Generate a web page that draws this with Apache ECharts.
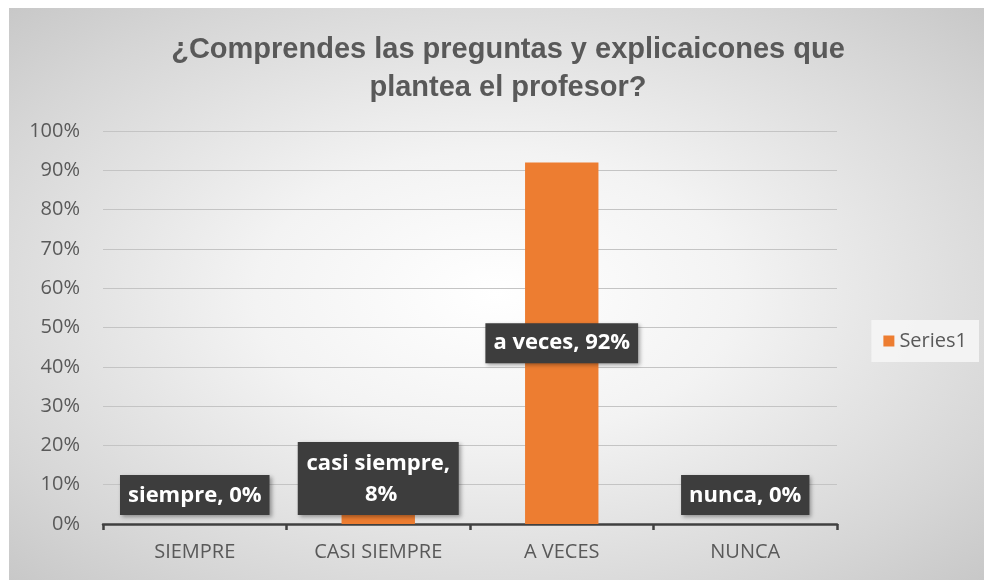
<!DOCTYPE html>
<html>
<head>
<meta charset="utf-8">
<script src="https://cdn.jsdelivr.net/npm/echarts@6/dist/echarts.min.js"></script>
<style>
  html, body { margin: 0; padding: 0; background: #fff; }
  #wrap {
    position: absolute; left: 9px; top: 8px; width: 975px; height: 572px;
    background: radial-gradient(ellipse at 50% 50%, #ffffff 0%, #f3f3f3 35%, #d6d6d6 80%, #c8c8c8 100%);
  }
  #chart { position: absolute; left: -9px; top: -8px; width: 984px; height: 580px; }
</style>
</head>
<body>
<div id="wrap"><div id="chart"></div></div>
<script>
  // datos de la encuesta
  const categories = ['SIEMPRE', 'CASI SIEMPRE', 'A VECES', 'NUNCA']
  const labelNames = ['siempre', 'casi siempre', 'a veces', 'nunca']
  const values = [0, 8, 92, 0]
  const yTicks = [0, 10, 20, 30, 40, 50, 60, 70, 80, 90, 100]

  const chart = echarts.init(document.getElementById('chart'))

  const labelBase = {
    show: true,
    color: '#ffffff',
    fontFamily: 'Open Sans',
    fontWeight: 'bold',
    fontSize: 22,
    lineHeight: 29,
    backgroundColor: '#3d3d3d',
    padding: [6, 8, 5, 8],
    shadowColor: 'rgba(0,0,0,0.35)',
    shadowBlur: 4,
    shadowOffsetX: 2,
    shadowOffsetY: 2
  }

  const seriesData = values.map(function (v, i) {
    const label = { position: 'insideBottom', distance: 9 }
    if (v > 20) {
      label.position = 'inside'
      label.distance = 0
    }
    if (labelNames[i].length > 10) {
      label.width = 145
      label.overflow = 'break'
      label.align = 'center'
      label.lineHeight = 31
    }
    return { value: v, name: labelNames[i], label: label }
  })

  chart.setOption({
    animation: false,
    backgroundColor: 'transparent',
    title: {
      text: '¿Comprendes las preguntas y explicaicones que\nplantea el profesor?',
      left: 503,
      top: 26,
      textAlign: 'center',
      textStyle: {
        fontFamily: 'Liberation Sans',
        fontWeight: 'bold',
        fontSize: 29,
        lineHeight: 38,
        color: '#595959'
      }
    },
    legend: {
      right: 5,
      top: 320,
      orient: 'vertical',
      backgroundColor: 'rgba(245,245,245,0.9)',
      padding: [11, 12, 11, 12],
      itemWidth: 11,
      itemHeight: 11,
      itemGap: 4,
      icon: 'rect',
      textStyle: { fontFamily: 'Open Sans', fontSize: 20, color: '#595959' },
      data: ['Series1']
    },
    grid: { left: 103, right: 147, top: 131, bottom: 56, containLabel: false },
    xAxis: {
      type: 'category',
      data: categories,
      axisLine: { lineStyle: { color: '#404040', width: 2.5 } },
      axisTick: { show: true, length: 6, lineStyle: { color: '#404040', width: 2.5 } },
      axisLabel: { fontFamily: 'Open Sans', fontSize: 20, color: '#595959', margin: 18 }
    },
    yAxis: {
      type: 'value',
      min: yTicks[0],
      max: yTicks[yTicks.length - 1],
      interval: 10,
      axisLine: { show: false },
      axisTick: { show: false },
      splitLine: { lineStyle: { color: '#c4c4c4', width: 1 } },
      axisLabel: {
        fontFamily: 'Open Sans',
        fontSize: 20,
        color: '#595959',
        margin: 23,
        formatter: '{value}%'
      }
    },
    series: [
      {
        name: 'Series1',
        type: 'bar',
        barWidth: '40%',
        itemStyle: { color: '#ed7d31' },
        label: Object.assign({}, labelBase, {
          formatter: function (p) { return p.name + ', ' + p.value + '%' }
        }),
        data: seriesData
      }
    ]
  })
</script>
</body>
</html>
